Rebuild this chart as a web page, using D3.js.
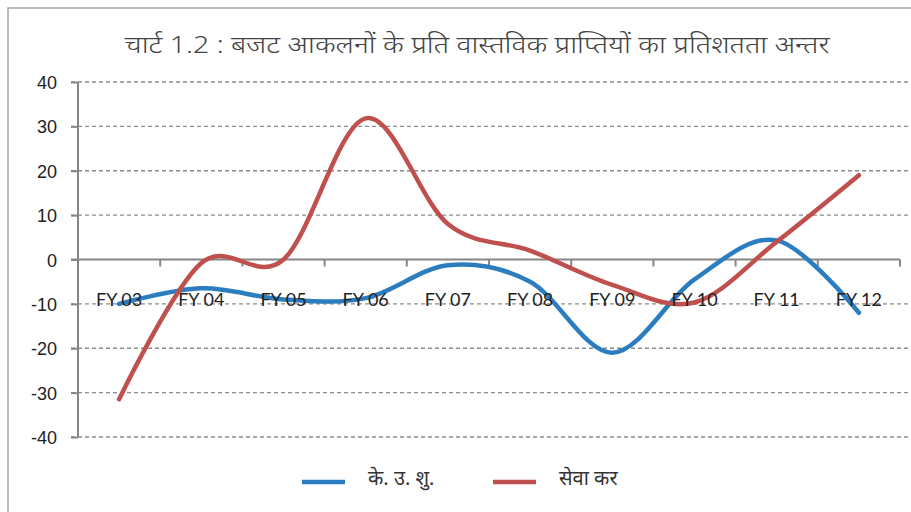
<!DOCTYPE html>
<html>
<head>
<meta charset="utf-8">
<script src="https://cdn.jsdelivr.net/npm/d3@7"></script>
<style>
  body { margin: 0; background: #fff; }
  svg { display: block; }
  .grid line { stroke: #8c8c8c; stroke-width: 1.3; stroke-dasharray: 4 3; }
  .axis path, .axis line { stroke: #868686; stroke-width: 2; }
  .ylab { font-family: 'Liberation Sans', Arial, sans-serif; font-size: 18px; fill: #222; }
  .xlab { font-family: Lato, 'Liberation Sans', sans-serif; font-size: 18px; fill: #222; }
  .title { font-family: 'Noto Sans', 'Liberation Sans', sans-serif; fill: #444; font-weight: 300; }
  .legend text { font-family: 'Noto Sans', 'Liberation Sans', sans-serif; fill: #333; font-weight: 400; }
</style>
</head>
<body>
<svg id="chart" width="911" height="512"></svg>
<script>
var titleText = 'चार्ट 1.2 : बजट आकलनों के प्रति वास्तविक प्राप्तियों का प्रतिशतता अन्तर';
var years = ['FY 03', 'FY 04', 'FY 05', 'FY 06', 'FY 07', 'FY 08', 'FY 09', 'FY 10', 'FY 11', 'FY 12'];
var centralExcise = [-10, -6.5, -9, -8.7, -1.3, -5, -21, -4.5, 4.3, -12];
var serviceTax = [-31.5, -0.8, 0, 31.8, 8, 2, -5.7, -9.7, 4, 19];
var seriesNames = ['के. उ. शु.', 'सेवा कर'];
var seriesColors = ['#2b7dc0', '#c0504d'];
var yTicks = [40, 30, 20, 10, 0, -10, -20, -30, -40];

var svg = d3.select('#chart');
var plotLeft = 78, plotRight = 900, plotTop = 82, plotBottom = 437;

// outer frame (cut off at right and bottom like the picture)
svg.append('path')
    .attr('d', 'M8,512 L8,8 L911,8')
    .attr('fill', 'none')
    .attr('stroke', '#a6a6a6')
    .attr('stroke-width', 1.5);

svg.append('text')
    .attr('class', 'title')
    .attr('x', 477)
    .attr('y', 53)
    .attr('text-anchor', 'middle')
    .attr('textLength', 705)
    .attr('lengthAdjust', 'spacingAndGlyphs')
    .style('font-size', '24px')
    .text(titleText);

var xScale = d3.scaleBand().domain(years).range([plotLeft, plotRight]);
var yScale = d3.scaleLinear().domain([-40, 40]).range([plotBottom, plotTop]);

// dashed gridlines
svg.append('g').attr('class', 'grid')
    .selectAll('line')
    .data(yTicks.filter(function (d) { return d !== 0; }))
    .enter()
    .append('line')
    .attr('x1', plotLeft - 7)
    .attr('x2', 911)
    .attr('y1', function (d) { return yScale(d); })
    .attr('y2', function (d) { return yScale(d); });

// y axis
var yAxis = svg.append('g').attr('class', 'axis')
    .attr('transform', 'translate(' + plotLeft + ',0)')
    .call(d3.axisLeft(yScale).tickValues(yTicks).tickSize(7).tickSizeOuter(0).tickFormat(''));
yAxis.select('.domain').attr('d', 'M0,' + plotTop + 'V' + plotBottom);

svg.append('g')
    .selectAll('text')
    .data(yTicks)
    .enter()
    .append('text')
    .attr('class', 'ylab')
    .attr('x', 57)
    .attr('y', function (d) { return yScale(d) + 7; })
    .attr('text-anchor', 'end')
    .text(function (d) { return d; });

// category axis along zero
var xAxis = svg.append('g').attr('class', 'axis')
    .attr('transform', 'translate(0,' + yScale(0) + ')')
    .call(d3.axisBottom(xScale).tickSize(0).tickFormat(''));
xAxis.select('.domain').attr('d', 'M' + (plotLeft - 7) + ',0H' + plotRight);
svg.append('g').attr('class', 'axis')
    .selectAll('line')
    .data(d3.range(years.length + 1))
    .enter()
    .append('line')
    .attr('x1', function (i) { return plotLeft + i * xScale.step(); })
    .attr('x2', function (i) { return plotLeft + i * xScale.step(); })
    .attr('y1', yScale(0))
    .attr('y2', yScale(0) + 7);

var line = d3.line()
    .x(function (d, i) { return xScale(years[i]) + xScale.bandwidth() / 2; })
    .y(function (d) { return yScale(d); })
    .curve(d3.curveCardinal.tension(0));

[centralExcise, serviceTax].forEach(function (vals, k) {
    svg.append('path')
        .attr('d', line(vals))
        .attr('fill', 'none')
        .attr('stroke', seriesColors[k])
        .attr('stroke-width', 4.5)
        .attr('stroke-linecap', 'round');
});

// category labels drawn over the lines
svg.append('g')
    .selectAll('text')
    .data(years)
    .enter()
    .append('text')
    .attr('class', 'xlab')
    .attr('x', function (d) { return xScale(d) + xScale.bandwidth() / 2; })
    .attr('y', 306)
    .attr('text-anchor', 'middle')
    .text(function (d) { return d; });

// legend
var legendX = [302, 493];
var legend = svg.append('g').attr('class', 'legend');
seriesNames.forEach(function (name, k) {
    legend.append('line')
        .attr('x1', legendX[k]).attr('x2', legendX[k] + 43)
        .attr('y1', 482).attr('y2', 482)
        .attr('stroke', seriesColors[k])
        .attr('stroke-width', 4.5);
    legend.append('text')
        .attr('x', legendX[k] + 66)
        .attr('y', 485)
        .style('font-size', '20px')
        .text(name);
});
</script>
</body>
</html>
